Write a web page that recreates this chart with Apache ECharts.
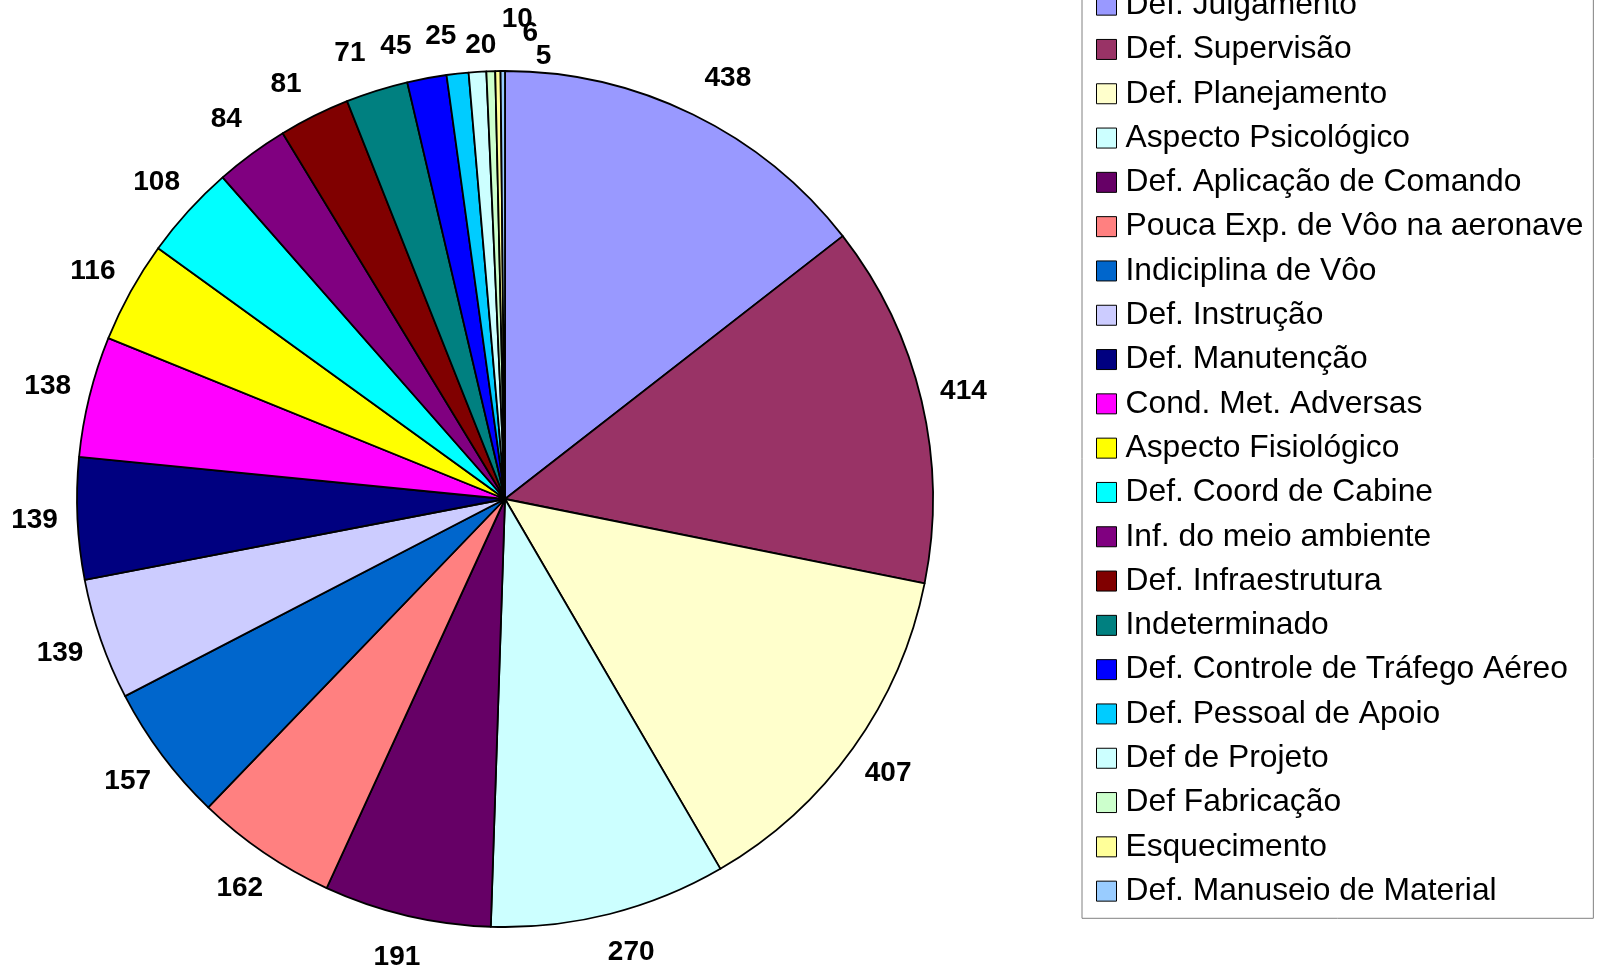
<!DOCTYPE html>
<html>
<head>
<meta charset="utf-8">
<script src="https://cdn.jsdelivr.net/npm/echarts@6/dist/echarts.min.js"></script>
<style>
  html, body { margin: 0; padding: 0; background: #fff; }
  #chart { width: 1597px; height: 968px; }
</style>
</head>
<body>
<div id="chart"></div>
<script>
const categories = [
  'Def. Julgamento', 'Def. Supervisão', 'Def. Planejamento', 'Aspecto Psicológico',
  'Def. Aplicação de Comando', 'Pouca Exp. de Vôo na aeronave', 'Indiciplina de Vôo',
  'Def. Instrução', 'Def. Manutenção', 'Cond. Met. Adversas', 'Aspecto Fisiológico',
  'Def. Coord de Cabine', 'Inf. do meio ambiente', 'Def. Infraestrutura', 'Indeterminado',
  'Def. Controle de Tráfego Aéreo', 'Def. Pessoal de Apoio', 'Def de Projeto',
  'Def Fabricação', 'Esquecimento', 'Def. Manuseio de Material'
];
const counts = [438, 414, 407, 270, 191, 162, 157, 139, 139, 138, 116, 108, 84, 81, 71, 45, 25, 20, 10, 6, 5];
const colors = [
  '#9999FF', '#993366', '#FFFFCC', '#CCFFFF', '#660066', '#FF8080', '#0066CC',
  '#CCCCFF', '#000080', '#FF00FF', '#FFFF00', '#00FFFF', '#800080', '#800000',
  '#008080', '#0000FF', '#00CCFF', '#CCFFFF', '#CCFFCC', '#FFFF99', '#99CCFF'
];

// small label shifts (px) where the original spread crowded labels apart
const labelNudge = {
  0: [16, 2], 3: [11, -3], 13: [-9, 7], 14: [-14, 4], 15: [-23, 10], 16: [-12, 5],
  17: [6, 16], 18: [28, -9], 19: [33, 5], 20: [41, 28]
};

const FONT = '"Liberation Sans", Arial, sans-serif';
const chart = echarts.init(document.getElementById('chart'));

const option = {
  animation: false,
  color: colors,
  legend: {
    orient: 'vertical',
    left: 1082,
    top: -27,
    padding: [10, 10, 5, 14],
    itemGap: 0,
    itemWidth: 20,
    itemHeight: 20,
    icon: 'rect',
    selectedMode: false,
    borderColor: '#808080',
    borderWidth: 1,
    itemStyle: { borderColor: '#000', borderWidth: 1 },
    textStyle: {
      fontFamily: FONT,
      fontSize: 31.8,
      color: '#000',
      lineHeight: 44.3,
      padding: [0, 0, 0, 4]
    },
    data: categories
  },
  series: [{
    type: 'pie',
    center: [505, 499],
    radius: 428,
    startAngle: 90,
    clockwise: true,
    avoidLabelOverlap: false,
    itemStyle: { borderColor: '#000', borderWidth: 1.8 },
    emphasis: { disabled: true },
    label: {
      show: true,
      position: 'outside',
      formatter: '{c}',
      fontFamily: FONT,
      fontSize: 28,
      fontWeight: 'bold',
      color: '#000'
    },
    labelLine: { show: true, length: 10, length2: 0, lineStyle: { opacity: 0 } },
    labelLayout: function (p) {
      const pts = p.labelLinePoints;
      if (!pts) return {};
      const dx = pts[1][0] - pts[0][0];
      const dy = pts[1][1] - pts[0][1];
      const len = Math.hypot(dx, dy) || 1;
      const n = labelNudge[p.dataIndex] || [0, 0];
      return {
        x: pts[0][0] + dx / len * 43 + n[0],
        y: pts[0][1] + dy / len * 43 + n[1],
        align: 'center',
        verticalAlign: 'middle'
      };
    },
    data: categories.map((name, i) => ({ name: name, value: counts[i] }))
  }]
};

chart.setOption(option);
</script>
</body>
</html>
